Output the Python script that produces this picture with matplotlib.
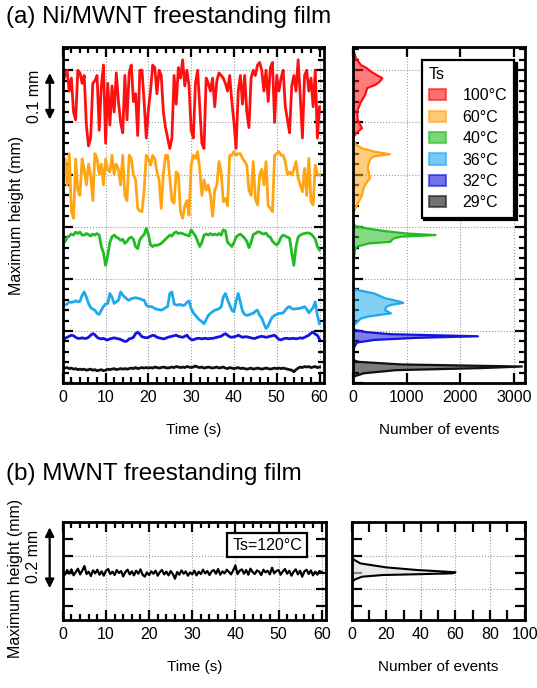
## FIGURA: altura maxima vs tiempo + histogramas
## ---------------------------------------
import numpy as np
import matplotlib.pyplot as plt
from matplotlib.patches import Patch
from matplotlib.ticker import MultipleLocator, FixedLocator
## ---------------------------------------

plt.rcParams['font.family'] = ['Liberation Sans', 'DejaVu Sans']

#########################################
###########   DATOS     #################
#########################################

time_s = np.linspace(0, 60, 121)   # muestreo cada 0.5 s

# (a) Ni/MWNT - altura maxima (mm), una serie por temperatura
h_100 = [0.575, 0.590, 0.600, 0.560, 0.585, 0.520, 0.505, 0.600, 0.595, 0.575,
         0.590, 0.495, 0.455, 0.470, 0.575, 0.580, 0.590, 0.485, 0.570, 0.610,
         0.460, 0.575, 0.495, 0.570, 0.520, 0.595, 0.540, 0.500, 0.480, 0.590,
         0.505, 0.595, 0.610, 0.540, 0.555, 0.475, 0.600, 0.600, 0.540, 0.470,
         0.525, 0.560, 0.610, 0.605, 0.555, 0.600, 0.590, 0.520, 0.490, 0.470,
         0.450, 0.470, 0.590, 0.535, 0.605, 0.585, 0.620, 0.570, 0.600, 0.570,
         0.485, 0.470, 0.575, 0.600, 0.530, 0.460, 0.450, 0.585, 0.575, 0.560,
         0.585, 0.530, 0.580, 0.595, 0.590, 0.585, 0.575, 0.560, 0.590, 0.540,
         0.500, 0.450, 0.560, 0.590, 0.535, 0.590, 0.520, 0.490, 0.585, 0.600,
         0.590, 0.610, 0.615, 0.600, 0.560, 0.600, 0.540, 0.605, 0.615, 0.500,
         0.590, 0.560, 0.585, 0.600, 0.530, 0.505, 0.480, 0.570, 0.590, 0.560,
         0.620, 0.550, 0.470, 0.590, 0.600, 0.560, 0.585, 0.530, 0.600, 0.470,
         0.530]
h_60 = [0.410, 0.430, 0.380, 0.440, 0.330, 0.316, 0.430, 0.370, 0.360, 0.430,
        0.410, 0.380, 0.420, 0.400, 0.350, 0.440, 0.430, 0.400, 0.420, 0.380,
        0.430, 0.410, 0.405, 0.437, 0.400, 0.420, 0.410, 0.380, 0.437, 0.360,
        0.350, 0.437, 0.431, 0.400, 0.390, 0.335, 0.330, 0.329, 0.370, 0.437,
        0.430, 0.418, 0.437, 0.430, 0.405, 0.390, 0.335, 0.400, 0.437, 0.437,
        0.393, 0.350, 0.345, 0.405, 0.400, 0.329, 0.316, 0.340, 0.350, 0.322,
        0.418, 0.437, 0.431, 0.444, 0.410, 0.360, 0.390, 0.370, 0.380, 0.360,
        0.320, 0.370, 0.380, 0.425, 0.405, 0.348, 0.354, 0.340, 0.437, 0.437,
        0.444, 0.437, 0.440, 0.440, 0.431, 0.425, 0.418, 0.370, 0.360, 0.425,
        0.354, 0.342, 0.400, 0.410, 0.380, 0.425, 0.340, 0.335, 0.329, 0.437,
        0.440, 0.444, 0.437, 0.437, 0.425, 0.400, 0.405, 0.399, 0.410, 0.425,
        0.393, 0.380, 0.367, 0.412, 0.360, 0.431, 0.348, 0.342, 0.418, 0.400,
        0.400]
h_40 = [0.274, 0.271, 0.280, 0.282, 0.286, 0.284, 0.290, 0.287, 0.290, 0.284,
        0.284, 0.287, 0.285, 0.282, 0.286, 0.284, 0.287, 0.284, 0.262, 0.250,
        0.226, 0.245, 0.270, 0.281, 0.284, 0.280, 0.278, 0.274, 0.276, 0.268,
        0.272, 0.278, 0.280, 0.276, 0.262, 0.258, 0.275, 0.281, 0.285, 0.297,
        0.285, 0.265, 0.262, 0.265, 0.264, 0.266, 0.268, 0.272, 0.276, 0.280,
        0.284, 0.282, 0.288, 0.290, 0.287, 0.288, 0.287, 0.285, 0.284, 0.282,
        0.294, 0.288, 0.282, 0.272, 0.262, 0.270, 0.284, 0.286, 0.284, 0.287,
        0.284, 0.286, 0.284, 0.287, 0.284, 0.294, 0.292, 0.270, 0.266, 0.262,
        0.270, 0.280, 0.284, 0.286, 0.282, 0.278, 0.272, 0.260, 0.270, 0.285,
        0.287, 0.290, 0.290, 0.287, 0.286, 0.288, 0.282, 0.280, 0.272, 0.268,
        0.265, 0.270, 0.280, 0.284, 0.282, 0.280, 0.278, 0.250, 0.226, 0.262,
        0.280, 0.284, 0.286, 0.287, 0.288, 0.288, 0.286, 0.282, 0.276, 0.262,
        0.255]
h_36 = [0.150, 0.150, 0.152, 0.156, 0.155, 0.156, 0.158, 0.156, 0.157, 0.168,
        0.175, 0.165, 0.153, 0.145, 0.142, 0.140, 0.134, 0.132, 0.140, 0.147,
        0.152, 0.153, 0.172, 0.165, 0.153, 0.156, 0.159, 0.175, 0.169, 0.165,
        0.161, 0.159, 0.162, 0.163, 0.164, 0.163, 0.162, 0.160, 0.159, 0.150,
        0.147, 0.147, 0.146, 0.143, 0.142, 0.141, 0.140, 0.142, 0.145, 0.147,
        0.172, 0.175, 0.152, 0.150, 0.150, 0.151, 0.149, 0.150, 0.155, 0.158,
        0.143, 0.135, 0.130, 0.125, 0.121, 0.118, 0.114, 0.122, 0.130, 0.134,
        0.137, 0.140, 0.141, 0.143, 0.146, 0.165, 0.172, 0.160, 0.150, 0.140,
        0.137, 0.158, 0.172, 0.155, 0.138, 0.132, 0.130, 0.131, 0.133, 0.134,
        0.138, 0.140, 0.130, 0.125, 0.114, 0.105, 0.110, 0.120, 0.127, 0.130,
        0.132, 0.134, 0.134, 0.135, 0.140, 0.145, 0.147, 0.143, 0.142, 0.143,
        0.143, 0.144, 0.145, 0.147, 0.142, 0.135, 0.140, 0.145, 0.156, 0.130,
        0.114]
h_32 = [0.084, 0.086, 0.088, 0.090, 0.092, 0.091, 0.088, 0.086, 0.086, 0.087,
        0.086, 0.086, 0.088, 0.092, 0.095, 0.093, 0.088, 0.086, 0.085, 0.086,
        0.084, 0.083, 0.085, 0.086, 0.087, 0.086, 0.085, 0.084, 0.082, 0.080,
        0.081, 0.085, 0.086, 0.088, 0.095, 0.098, 0.094, 0.089, 0.088, 0.087,
        0.088, 0.090, 0.092, 0.091, 0.088, 0.087, 0.086, 0.085, 0.086, 0.088,
        0.089, 0.090, 0.091, 0.092, 0.090, 0.089, 0.088, 0.090, 0.092, 0.087,
        0.084, 0.083, 0.085, 0.086, 0.086, 0.085, 0.086, 0.086, 0.085, 0.086,
        0.086, 0.087, 0.088, 0.089, 0.090, 0.093, 0.095, 0.092, 0.089, 0.088,
        0.089, 0.090, 0.092, 0.090, 0.088, 0.089, 0.089, 0.088, 0.087, 0.086,
        0.086, 0.088, 0.089, 0.090, 0.089, 0.088, 0.089, 0.090, 0.091, 0.092,
        0.088, 0.084, 0.083, 0.085, 0.086, 0.086, 0.085, 0.086, 0.086, 0.085,
        0.086, 0.087, 0.086, 0.088, 0.090, 0.092, 0.096, 0.098, 0.094, 0.092,
        0.084]
h_29 = [0.031, 0.029, 0.030, 0.028, 0.029, 0.027, 0.028, 0.026, 0.027, 0.026,
        0.027, 0.025, 0.026, 0.027, 0.025, 0.026, 0.024, 0.025, 0.026, 0.024,
        0.025, 0.027, 0.026, 0.027, 0.028, 0.026, 0.027, 0.028, 0.027, 0.028,
        0.027, 0.028, 0.029, 0.028, 0.030, 0.028, 0.029, 0.030, 0.029, 0.030,
        0.029, 0.030, 0.029, 0.031, 0.030, 0.029, 0.030, 0.031, 0.030, 0.029,
        0.030, 0.031, 0.030, 0.032, 0.031, 0.030, 0.031, 0.030, 0.032, 0.031,
        0.030, 0.031, 0.033, 0.031, 0.030, 0.031, 0.029, 0.030, 0.031, 0.030,
        0.029, 0.030, 0.031, 0.029, 0.030, 0.031, 0.029, 0.028, 0.030, 0.029,
        0.028, 0.029, 0.030, 0.028, 0.029, 0.028, 0.027, 0.028, 0.029, 0.027,
        0.028, 0.029, 0.028, 0.027, 0.028, 0.029, 0.028, 0.027, 0.028, 0.029,
        0.028, 0.029, 0.028, 0.029, 0.028, 0.027, 0.026, 0.025, 0.022, 0.026,
        0.029, 0.031, 0.030, 0.032, 0.031, 0.032, 0.030, 0.031, 0.032, 0.030,
        0.031]

# (a) histogramas: nivel de altura (mm) y numero de eventos
hy_100 = [0.640, 0.636, 0.623, 0.610, 0.604, 0.598, 0.591, 0.585, 0.578, 0.572,
          0.566, 0.553, 0.537, 0.521, 0.505, 0.489, 0.479, 0.470]
hc_100 = [0, 20, 60, 150, 260, 330, 440, 550, 500, 420, 270, 230, 140, 80, 90, 170, 60, 0]
hy_60 = [0.470, 0.463, 0.457, 0.450, 0.444, 0.439, 0.435, 0.431, 0.420, 0.412,
         0.403, 0.393, 0.385, 0.374, 0.360, 0.348, 0.335, 0.325]
hc_60 = [0, 30, 60, 180, 400, 690, 400, 330, 290, 280, 300, 320, 260, 200, 170, 110, 50, 0]
hy_40 = [0.305, 0.301, 0.296, 0.291, 0.287, 0.284, 0.281, 0.278, 0.274, 0.271,
         0.268, 0.262, 0.255, 0.236, 0.210]
hc_40 = [0, 60, 300, 650, 1000, 1540, 900, 770, 720, 700, 300, 80, 40, 20, 0]
hy_36 = [0.185, 0.180, 0.172, 0.163, 0.157, 0.154, 0.150, 0.146, 0.140, 0.134,
         0.128, 0.124, 0.115, 0.108]
hc_36 = [0, 30, 400, 600, 850, 940, 700, 620, 600, 710, 300, 150, 60, 0]
hy_32 = [0.108, 0.102, 0.098, 0.094, 0.090, 0.087, 0.083, 0.078, 0.070, 0.060]
hc_32 = [0, 40, 250, 700, 2330, 1200, 400, 80, 30, 0]
hy_29 = [0.045, 0.041, 0.036, 0.032, 0.029, 0.025, 0.019, 0.012]
hc_29 = [0, 100, 900, 3150, 2400, 800, 200, 0]

# (b) MWNT - altura relativa (mm)
h_120 = [0.004, -0.006, 0.008, -0.003, 0.010, -0.008, 0.002, 0.012, -0.005, 0.006,
         0.020, -0.004, 0.003, -0.010, 0.007, -0.002, 0.009, -0.006, 0.004, -0.009,
         0.006, 0.011, -0.004, 0.003, -0.007, 0.008, -0.001, 0.005, -0.011, 0.002,
         0.009, -0.005, 0.004, -0.008, 0.006, -0.003, 0.010, -0.006, -0.012, 0.001,
         -0.007, 0.004, -0.003, 0.006, -0.009, 0.002, 0.008, -0.005, 0.003, -0.008,
         0.005, -0.004, -0.018, 0.002, -0.006, 0.007, -0.003, 0.004, -0.009, 0.001,
         -0.005, 0.006, -0.008, 0.003, -0.004, 0.009, -0.002, 0.005, -0.007, 0.004,
         0.008, -0.003, 0.011, -0.006, 0.004, -0.002, 0.009, 0.002, -0.005, 0.007,
         0.022, -0.004, 0.006, 0.010, -0.003, 0.008, -0.006, 0.012, 0.002, -0.004,
         0.007, 0.003, -0.007, 0.009, 0.001, 0.006, -0.005, 0.015, -0.002, 0.005,
         0.008, -0.006, 0.004, 0.011, -0.003, 0.006, -0.009, 0.003, 0.010, -0.005,
         0.006, -0.012, 0.004, 0.009, -0.004, 0.007, -0.008, 0.003, -0.006, 0.005,
         0.002]
hy_120 = [0.045, 0.040, 0.028, 0.016, 0.008, 0.003, 0.001, -0.002, -0.005, -0.007,
          -0.012, -0.020, -0.028]
hc_120 = [0, 1, 5, 20, 38, 55, 60, 58, 35, 18, 6, 2, 0]

labels_ts = ["100°C", "60°C", "40°C", "36°C", "32°C", "29°C"]
colores   = ["#ff1010", "#ffa512", "#22bb22", "#1ea8ee", "#1414dc", "#111111"]
## ---------------------------------------

#########################################
###########   FIGURA    #################
#########################################

fig = plt.figure(figsize=(5.37, 6.88), dpi=100)

ax1 = fig.add_axes([0.117, 0.443, 0.486, 0.489])
ax2 = fig.add_axes([0.657, 0.443, 0.320, 0.489])
ax3 = fig.add_axes([0.117, 0.099, 0.490, 0.142])
ax4 = fig.add_axes([0.655, 0.099, 0.322, 0.142])

fs_tick = 11.5
fs_lab = 11


def estilo(ax):
    for s in ax.spines.values():
        s.set_linewidth(2)
    ax.tick_params(which="both", direction="in", top=True, right=True,
                   width=1.6, labelsize=fs_tick, pad=5)
    ax.tick_params(which="major", length=7)
    ax.tick_params(which="minor", length=4)
    ax.grid(True, which="major", ls=":", lw=0.8, color="#999999")
    ax.set_axisbelow(True)


# Series temporales (a)
series = [h_100, h_60, h_40, h_36, h_32, h_29]
for h, c in zip(series, colores):
    ax1.plot(time_s, h, color=c, lw=2.0)
ax1.set_xlim(0, 61)
ax1.set_ylim(0, 0.645)
ax1.xaxis.set_major_locator(MultipleLocator(10))
ax1.xaxis.set_minor_locator(MultipleLocator(2))
ax1.yaxis.set_major_locator(MultipleLocator(0.1))
ax1.yaxis.set_minor_locator(MultipleLocator(0.02))
ax1.set_yticklabels([])
estilo(ax1)
ax1.set_xlabel("Time (s)", fontsize=fs_lab, labelpad=13)
ax1.set_ylabel("Maximum height (mm)", fontsize=11.5)
ax1.yaxis.set_label_coords(-0.15, 0.5)

# flecha de escala 0.1 mm
ax1.annotate("", xy=(-0.05, 0.6), xycoords=("axes fraction", "data"),
             xytext=(-0.05, 0.5), textcoords=("axes fraction", "data"),
             arrowprops=dict(arrowstyle="<|-|>", color="k", lw=1.6, mutation_scale=13),
             annotation_clip=False)
ax1.text(-0.107, 0.55, "0.1 mm", transform=ax1.get_yaxis_transform(),
         rotation=90, ha="center", va="center", fontsize=11.5)

# Histogramas (a)
hist_y = [hy_100, hy_60, hy_40, hy_36, hy_32, hy_29]
hist_c = [hc_100, hc_60, hc_40, hc_36, hc_32, hc_29]
for y, n, c in zip(hist_y, hist_c, colores):
    ax2.fill_betweenx(y, 0, n, facecolor=c, alpha=0.55, lw=0)
    ax2.plot(n, y, color=c, lw=1.6)
ax2.set_xlim(0, 3200)
ax2.set_ylim(0, 0.645)
ax2.xaxis.set_major_locator(MultipleLocator(1000))
ax2.yaxis.set_major_locator(MultipleLocator(0.1))
ax2.yaxis.set_minor_locator(MultipleLocator(0.02))
ax2.set_yticklabels([])
estilo(ax2)
ax2.set_xlabel("Number of events", fontsize=fs_lab, labelpad=13)

handles = [Patch(facecolor=c, edgecolor=c, alpha=0.6, lw=1.5) for c in colores]
leg = ax2.legend(handles, labels_ts, title="Ts", loc="upper right",
                 bbox_to_anchor=(0.985, 0.985), fontsize=11.5, title_fontsize=11.5,
                 frameon=True, fancybox=False, handlelength=1.1, handleheight=0.7,
                 labelspacing=0.4, borderpad=0.45, handletextpad=1.0,
                 shadow={"color": "k", "alpha": 1, "ox": 2, "oy": -2})
leg._legend_box.align = "left"
leg.get_frame().set_edgecolor("k")
leg.get_frame().set_linewidth(1.6)
leg.get_frame().set_alpha(1)

# Serie temporal (b)
ax3.plot(time_s, h_120, color="k", lw=1.6)
ax3.set_xlim(0, 61)
ax3.set_ylim(-0.142, 0.152)
ax3.xaxis.set_major_locator(MultipleLocator(10))
ax3.xaxis.set_minor_locator(MultipleLocator(2))
ax3.yaxis.set_major_locator(FixedLocator([-0.05, 0.05]))
ax3.yaxis.set_minor_locator(FixedLocator([-0.1, 0.0, 0.1]))
ax3.set_yticklabels([])
estilo(ax3)
ax3.tick_params(axis="y", which="minor", length=7)
ax3.set_xlabel("Time (s)", fontsize=fs_lab, labelpad=13)
ax3.set_ylabel("Maximum height (mm)", fontsize=11.5)
ax3.yaxis.set_label_coords(-0.15, 0.42)
ax3.text(0.776, 0.765, "Ts=120°C", transform=ax3.transAxes, ha="center", va="center",
         fontsize=11.5, bbox=dict(boxstyle="square,pad=0.3", fc="white", ec="k", lw=1.6))

ax3.annotate("", xy=(-0.05, 0.145), xycoords=("axes fraction", "data"),
             xytext=(-0.05, -0.055), textcoords=("axes fraction", "data"),
             arrowprops=dict(arrowstyle="<|-|>", color="k", lw=1.6, mutation_scale=13),
             annotation_clip=False)
ax3.text(-0.11, 0.05, "0.2 mm", transform=ax3.get_yaxis_transform(),
         rotation=90, ha="center", va="center", fontsize=11.5)

# Histograma (b)
ax4.fill_betweenx(hy_120, 0, hc_120, facecolor="#dddddd", alpha=0.6, lw=0)
ax4.plot(hc_120, hy_120, color="k", lw=1.5)
ax4.set_xlim(0, 100)
ax4.set_ylim(-0.142, 0.152)
ax4.xaxis.set_major_locator(MultipleLocator(20))
ax4.xaxis.set_minor_locator(MultipleLocator(10))
ax4.yaxis.set_major_locator(FixedLocator([-0.05, 0.05]))
ax4.yaxis.set_minor_locator(FixedLocator([-0.1, 0.0, 0.1]))
ax4.set_yticklabels([])
estilo(ax4)
ax4.tick_params(axis="both", which="minor", length=7)
ax4.set_xlabel("Number of events", fontsize=fs_lab, labelpad=13)

# Titulos de panel
fig.text(0.012, 1 - 17 / 688, "(a) Ni/MWNT freestanding film", fontsize=17.5, va="center")
fig.text(0.012, 1 - 474 / 688, "(b) MWNT freestanding film", fontsize=17.5, va="center")

fig.savefig("out.png", dpi=100)
